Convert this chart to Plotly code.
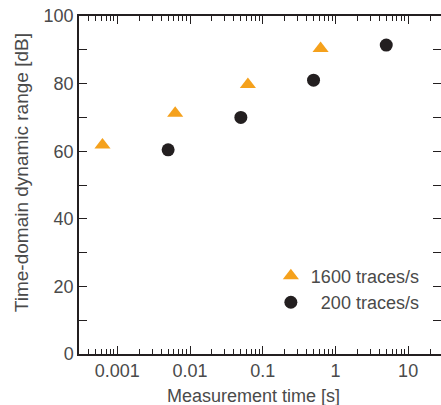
import plotly.graph_objects as go

# Data
tri_time = [0.000625, 0.00625, 0.0625, 0.625]
tri_range = [61.8, 71.2, 79.7, 90.4]
circ_time = [0.005, 0.05, 0.5, 5.0]
circ_range = [60.4, 70.0, 81.0, 91.4]
x_tickvals = [0.001, 0.01, 0.1, 1, 10]
x_ticktext = ["0.001", "0.01", "0.1", "1", "10"]
y_tickvals = [0, 20, 40, 60, 80, 100]
series_names = ["1600 traces/s", "\u00a0\u00a0200 traces/s"]
x_title = "Measurement time [s]"
y_title = "Time-domain dynamic range [dB]"

FONT = "Liberation Sans, Arial, sans-serif"
TXT = "#4a4a4a"
AX = "#231f20"
FS = 18

fig = go.Figure()
fig.add_trace(go.Scatter(
    x=tri_time, y=tri_range, mode="markers", name=series_names[0],
    marker=dict(symbol="triangle-up", size=14, color="#f5a11c", line=dict(width=0)),
))
fig.add_trace(go.Scatter(
    x=circ_time, y=circ_range, mode="markers", name=series_names[1],
    marker=dict(symbol="circle", size=13, color="#231f20", line=dict(width=0)),
))

fig.update_layout(
    width=441, height=405,
    margin=dict(l=79, r=0, t=16, b=51, autoexpand=False),
    paper_bgcolor="white", plot_bgcolor="white",
    font=dict(family=FONT, size=FS, color=TXT),
    showlegend=True,
    legend=dict(x=0.53, y=0.285, xanchor="left", yanchor="top",
                bgcolor="rgba(0,0,0,0)", font=dict(size=FS, color=TXT),
                itemwidth=30, tracegroupgap=0),
    xaxis=dict(
        type="log", range=[-3.527, 1.452], automargin=False,
        tickvals=x_tickvals, ticktext=x_ticktext,
        ticks="inside", ticklen=8, tickwidth=1.2, tickcolor=AX,
        minor=dict(ticks="inside", ticklen=5, tickwidth=1, tickcolor=AX,
                   tickvals=[m * 10 ** e for e in range(-4, 2) for m in range(2, 10)]),
        showline=True, linecolor=AX, linewidth=1.5, mirror="ticks",
        showgrid=False, zeroline=False,
        tickfont=dict(size=FS, color=TXT),
    ),
    yaxis=dict(
        range=[0, 100], tickvals=y_tickvals, automargin=False,
        ticklabeloverflow="allow",
        ticks="inside", ticklen=8, tickwidth=1.2, tickcolor=AX,
        minor=dict(ticks="inside", ticklen=8, tickwidth=1.2, tickcolor=AX,
                   tickvals=[10, 30, 50, 70, 90]),
        showline=True, linecolor=AX, linewidth=1.5, mirror="ticks",
        showgrid=False, zeroline=False,
        tickfont=dict(size=FS, color=TXT),
    ),
    annotations=[
        dict(text=x_title, xref="paper", yref="paper", x=0.4807, y=-0.1243,
             xanchor="center", yanchor="middle", showarrow=False,
             font=dict(size=FS, color=TXT)),
        dict(text=y_title, xref="paper", yref="paper", x=-0.1602, y=0.535,
             xanchor="center", yanchor="middle", showarrow=False, textangle=-90,
             font=dict(size=19, color=TXT)),
    ],
)

fig.write_html(
    "out.html",
    config={"displayModeBar": False},
    post_script="document.body.style.margin='0';document.body.style.overflow='hidden';",
)
